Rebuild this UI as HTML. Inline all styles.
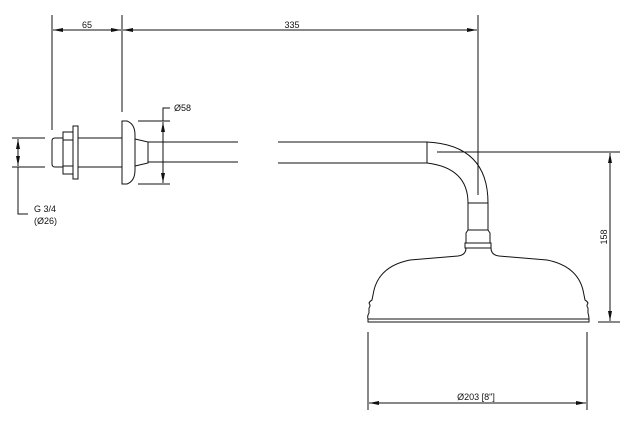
<!DOCTYPE html>
<html><head><meta charset="utf-8"><style>
html,body{margin:0;padding:0;background:#fff;width:633px;height:430px;overflow:hidden}
svg{display:block}
text{font-family:"Liberation Sans",sans-serif;font-size:9px;fill:#111}
</style></head><body>
<svg width="633" height="430" viewBox="0 0 633 430" xmlns="http://www.w3.org/2000/svg">
<defs>
<marker id="a" viewBox="0 0 10 4" refX="10" refY="2" markerWidth="10" markerHeight="4" orient="auto-start-reverse" markerUnits="userSpaceOnUse"><path d="M0,0 L10,2 L0,4 z" fill="#111"/></marker>
</defs>
<g stroke="#111" stroke-width="1" fill="none">
<!-- top dims -->
<line x1="52" y1="15" x2="52" y2="130"/>
<line x1="122" y1="15" x2="122" y2="112"/>
<line x1="478" y1="15" x2="478" y2="195"/>
<line x1="53" y1="30" x2="121" y2="30" marker-start="url(#a)" marker-end="url(#a)"/>
<line x1="123" y1="30" x2="477" y2="30" marker-start="url(#a)" marker-end="url(#a)"/>
<!-- left fitting -->
<path d="M55,138 H63 V167 H55 Q52,167 52,164 V141 Q52,138 55,138 Z"/>
<rect x="63" y="132" width="10" height="42"/>
<line x1="63" y1="140" x2="73" y2="140"/><line x1="63" y1="166" x2="73" y2="166"/>
<rect x="73" y="126" width="5" height="53"/>
<line x1="78" y1="138" x2="122" y2="138"/><line x1="78" y1="167" x2="122" y2="167"/>
<path d="M122,121 H127 Q135,124 135,135 V170 Q135,181 127,184 H122 Z"/>
<line x1="122" y1="121" x2="122" y2="184"/>
<path d="M135,139 L148,142 V163 L135,166"/>
<line x1="148" y1="142" x2="238" y2="142"/><line x1="148" y1="162" x2="238" y2="162"/>
<line x1="278" y1="142" x2="427" y2="142"/><line x1="278" y1="163" x2="427" y2="163"/>
<!-- Ø58 -->
<line x1="138" y1="121" x2="170" y2="121"/><line x1="138" y1="184" x2="170" y2="184"/>
<line x1="163" y1="122" x2="163" y2="183" marker-start="url(#a)" marker-end="url(#a)"/>
<polyline points="163,121 163,108 170,108"/>
<!-- G 3/4 -->
<line x1="12" y1="138" x2="45" y2="138"/><line x1="12" y1="167" x2="45" y2="167"/>
<line x1="18" y1="139" x2="18" y2="166" marker-start="url(#a)" marker-end="url(#a)"/>
<polyline points="18,167 18,214 28,214"/>
<!-- elbow -->
<line x1="427" y1="142" x2="427" y2="163"/>
<path d="M427,142 Q488,145 488,203"/>
<path d="M427,163 Q468,168 468,203"/>
<rect x="468" y="203" width="20" height="27"/>
<path d="M468,230 L466,233 V243 H490 V233 L488,230"/>
<rect x="465" y="243" width="26" height="5"/>
<!-- head -->
<path d="M466,248 Q466,255 458,256 L410,260 Q380,266 374,290 L372,300 Q370,301 369,303 Q371,306 369,308 L369,313 Q367,316 368,319 L368,322 H589 L589,319 Q589,316 588,313 L588,308 Q586,306 588,303 Q587,301 585,300 L583,290 Q577,266 547,260 L499,256 Q491,255 491,248"/>
<line x1="368" y1="319" x2="589" y2="319"/>
<!-- 158 -->
<line x1="437" y1="152" x2="620" y2="152"/>
<line x1="598" y1="322" x2="620" y2="322"/>
<line x1="610" y1="153" x2="610" y2="321" marker-start="url(#a)" marker-end="url(#a)"/>
<!-- bottom -->
<line x1="368" y1="332" x2="368" y2="410"/><line x1="587" y1="332" x2="587" y2="410"/>
<line x1="369" y1="403" x2="586" y2="403" marker-start="url(#a)" marker-end="url(#a)"/>
</g>
<text x="87" y="28" text-anchor="middle">65</text>
<text x="292" y="28" text-anchor="middle">335</text>
<text x="174" y="111">Ø58</text>
<text x="34" y="212">G 3/4</text>
<text x="34" y="224">(Ø26)</text>
<text x="476" y="400" text-anchor="middle">Ø203 [8"]</text>
<text x="0" y="0" transform="translate(607,237) rotate(-90)" text-anchor="middle">158</text>
</svg>
</body></html>
